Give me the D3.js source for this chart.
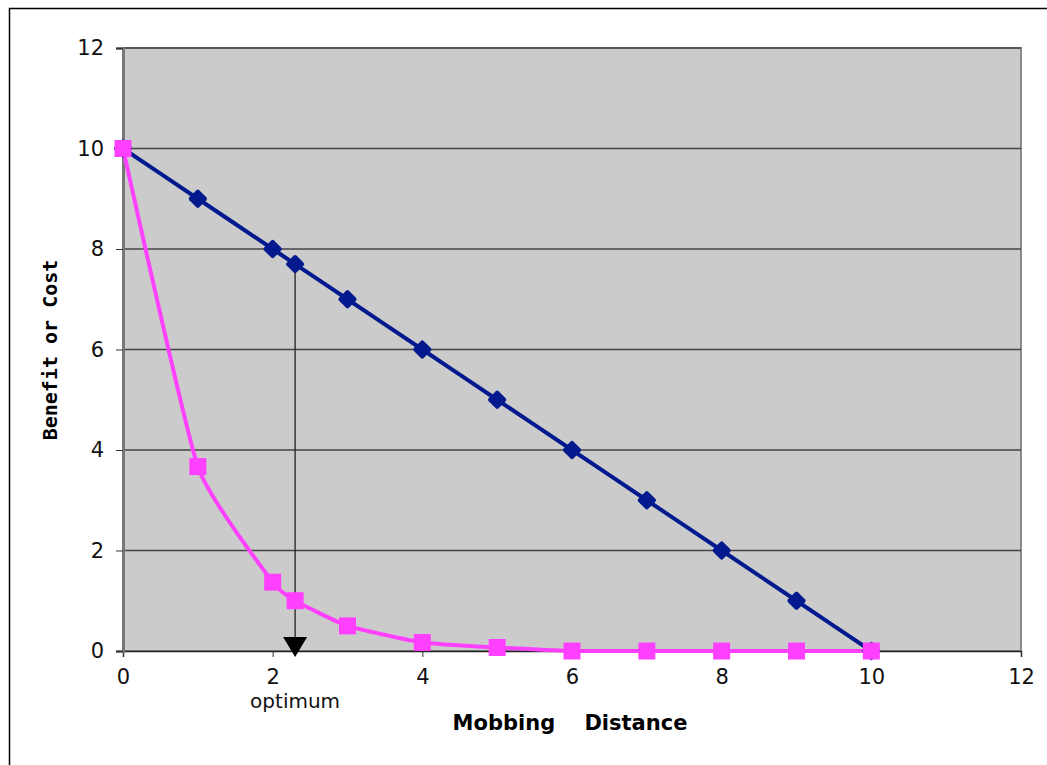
<!DOCTYPE html>
<html>
<head>
<meta charset="utf-8">
<script src="https://cdn.jsdelivr.net/npm/d3@7"></script>
<style>
body { margin: 0; background: #fff; }
svg { display: block; font-family: "DejaVu Sans", sans-serif; }
</style>
</head>
<body>
<div id="chart"></div>
<script>
// distances with a marker
var distances = [0, 1, 2, 2.3, 3, 4, 5, 6, 7, 8, 9, 10];
var benefit = [10, 9, 8, 7.7, 7, 6, 5, 4, 3, 2, 1, 0];
var cost = [10, 3.67, 1.37, 1.0, 0.5, 0.17, 0.07, 0, 0, 0, 0, 0];
var xTicks = [0, 2, 4, 6, 8, 10, 12];
var yTicks = [0, 2, 4, 6, 8, 10, 12];
var optimum = 2.3;

var width = 1047, height = 765;
var margin = {top: 48, right: 26, bottom: 114, left: 123};

var svg = d3.select('#chart')
	.append('svg')
	.attr('width', width)
	.attr('height', height);

// outer frame
svg.append('rect')
	.attr('x', 9.5).attr('y', 8.5)
	.attr('width', width + 10).attr('height', height + 10)
	.attr('fill', 'none').attr('stroke', '#000').attr('stroke-width', 1.5);

var x = d3.scaleLinear().domain([0, 12]).range([margin.left, width - margin.right]);
var y = d3.scaleLinear().domain([0, 12]).range([height - margin.bottom, margin.top]);

// plot area
svg.append('rect')
	.attr('x', x(0)).attr('y', y(12))
	.attr('width', x(12) - x(0)).attr('height', y(0) - y(12))
	.attr('fill', '#cbcbcb').attr('stroke', '#8a8a8a').attr('stroke-width', 2);

// grid lines
svg.selectAll('.grid')
	.data(yTicks.filter(function(d) { return d > 0; }))
	.enter().append('line')
	.attr('x1', x(0)).attr('x2', x(12))
	.attr('y1', function(d) { return y(d); })
	.attr('y2', function(d) { return y(d); })
	.attr('stroke', '#444').attr('stroke-width', 1.3);

// axes
var xAxis = svg.append('g')
	.attr('transform', 'translate(0,' + y(0) + ')')
	.call(d3.axisBottom(x).tickValues(xTicks).tickSize(6).tickPadding(12));
var yAxis = svg.append('g')
	.attr('transform', 'translate(' + x(0) + ',0)')
	.call(d3.axisLeft(y).tickValues(yTicks).tickSize(7).tickPadding(12));

[xAxis, yAxis].forEach(function(g) {
	g.select('.domain').attr('stroke', '#222').attr('stroke-width', 1.5);
	g.selectAll('.tick line').attr('stroke', '#333');
	g.selectAll('.tick text')
		.attr('fill', '#111')
		.style('font-size', '21px')
		.style('font-family', '"DejaVu Sans", sans-serif');
});
yAxis.select('.domain').attr('stroke', '#777').attr('stroke-width', 3);

// optimum marker
var optIdx = distances.indexOf(optimum);
svg.append('line')
	.attr('x1', x(optimum)).attr('x2', x(optimum))
	.attr('y1', y(benefit[optIdx])).attr('y2', y(0))
	.attr('stroke', '#222').attr('stroke-width', 1.3);
svg.append('path')
	.attr('d', 'M' + (x(optimum) - 12) + ',' + (y(0) - 14) +
		'L' + (x(optimum) + 12) + ',' + (y(0) - 14) +
		'L' + x(optimum) + ',' + (y(0) + 6) + 'Z')
	.attr('fill', '#000');

var line = d3.line()
	.x(function(d) { return x(d[0]); })
	.y(function(d) { return y(d[1]); })
	.curve(d3.curveCardinal.tension(0.55));

var benefitPts = d3.zip(distances, benefit);
var costPts = d3.zip(distances, cost);

svg.append('path')
	.datum(benefitPts)
	.attr('d', line)
	.attr('fill', 'none')
	.attr('stroke', '#021a8e')
	.attr('stroke-width', 4);

svg.append('path')
	.datum(costPts)
	.attr('d', line)
	.attr('fill', 'none')
	.attr('stroke', '#ff40ff')
	.attr('stroke-width', 4);

// diamond markers
svg.selectAll('.diamond')
	.data(benefitPts)
	.enter().append('rect')
	.attr('x', -7).attr('y', -7)
	.attr('width', 14).attr('height', 14)
	.attr('rx', 2)
	.attr('transform', function(d) {
		return 'translate(' + x(d[0]) + ',' + y(d[1]) + ') rotate(45)';
	})
	.attr('fill', '#021a8e');

// square markers
svg.selectAll('.square')
	.data(costPts)
	.enter().append('rect')
	.attr('x', function(d) { return x(d[0]) - 8.5; })
	.attr('y', function(d) { return y(d[1]) - 8.5; })
	.attr('width', 17).attr('height', 17)
	.attr('fill', '#ff40ff');

// labels
svg.append('text')
	.attr('x', x(optimum))
	.attr('y', 708)
	.attr('text-anchor', 'middle')
	.style('font-size', '20px')
	.attr('fill', '#111')
	.text('optimum');

svg.append('text')
	.attr('x', 570)
	.attr('y', 730)
	.attr('text-anchor', 'middle')
	.style('font-size', '21px')
	.style('font-weight', 'bold')
	.attr('fill', '#000')
	.attr('xml:space', 'preserve')
	.style('white-space', 'pre')
	.text('Mobbing    Distance');

svg.append('text')
	.attr('transform', 'translate(57,350) rotate(-90)')
	.attr('text-anchor', 'middle')
	.style('font-size', '20px')
	.style('font-weight', 'bold')
	.style('font-family', '"DejaVu Sans Mono", monospace')
	.attr('fill', '#000')
	.text('Benefit or Cost');
</script>
</body>
</html>
